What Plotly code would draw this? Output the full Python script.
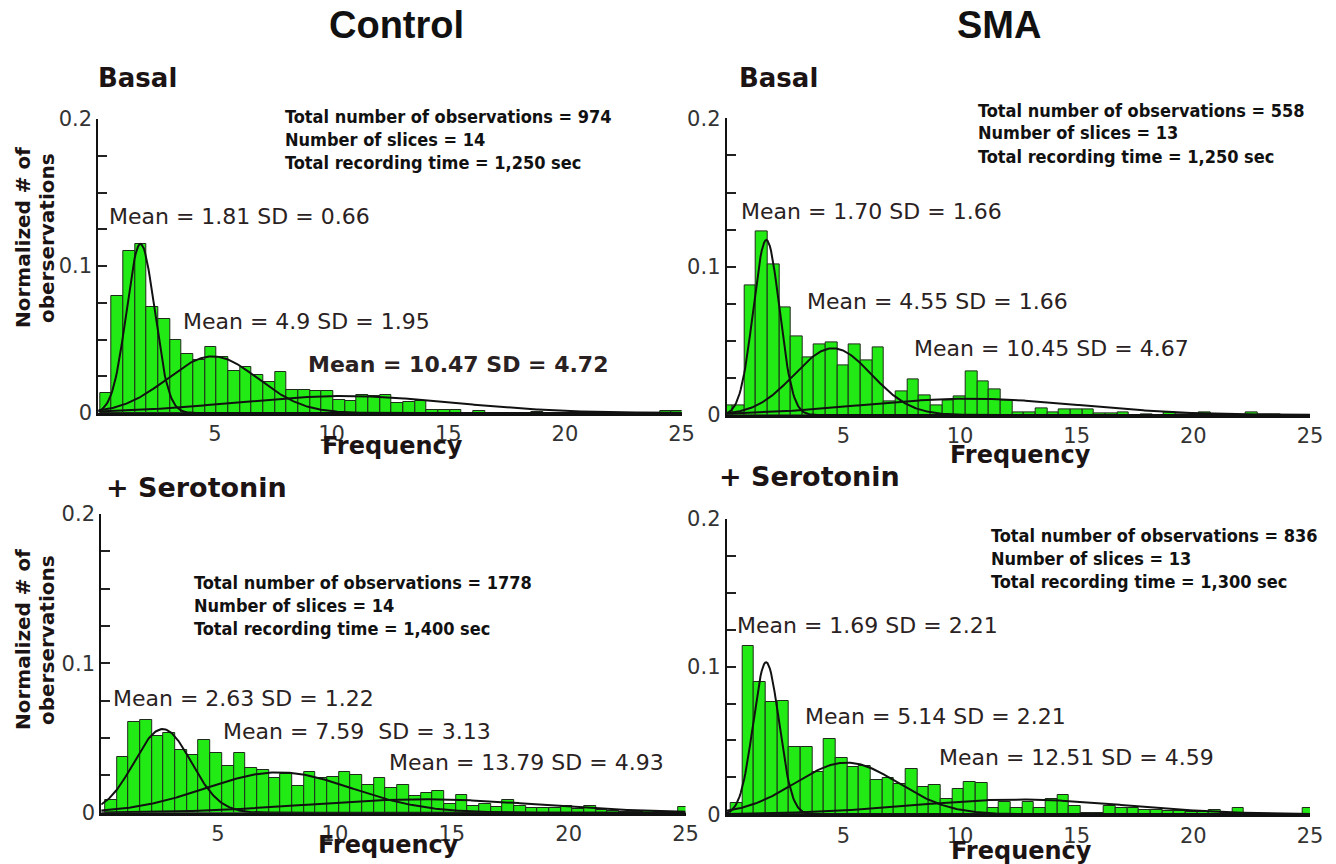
import numpy as np
import plotly.graph_objects as go

W, H = 1336, 864
BIN_W = 0.5

# ---------------- data ----------------
# Panel 1: Control, Basal
p1_start = 0.07
p1_vals = [0.0136, 0.0796, 0.110, 0.115, 0.072, 0.0638, 0.050, 0.040, 0.036, 0.045,
           0.038, 0.0285, 0.031, 0.026, 0.021, 0.0276, 0.0158, 0.0154, 0.0149, 0.0149,
           0.009, 0.008, 0.0122, 0.0118, 0.0120, 0.0066, 0.0077, 0.0082, 0.0023, 0.0023,
           0.0023, 0.0, 0.0014, 0.0, 0.0, 0.0, 0.0, 0.0005, 0.0, 0.0,
           0.0, 0.0, 0.0, 0.0, 0.0, 0.0, 0.0, 0.0, 0.0014, 0.0014]
p1_means = [1.81, 4.9, 10.47]
p1_sds = [0.60, 1.95, 4.72]
p1_peaks = [0.115, 0.0385, 0.0115]

# Panel 2: SMA, Basal
p2_start = -0.25
p2_vals = [0.0067, 0.0067, 0.0872, 0.1236, 0.1016, 0.0726, 0.0528, 0.0389, 0.0479, 0.0492,
           0.0337, 0.0479, 0.0371, 0.0456, 0.009, 0.0157, 0.024, 0.0135, 0.0067, 0.0101,
           0.0124, 0.0297, 0.0225, 0.0173, 0.0101, 0.0015, 0.0015, 0.0043, 0.002, 0.0038,
           0.0038, 0.0038, 0.0012, 0.0012, 0.0018, 0.0, 0.0007, 0.0, 0.002, 0.0007,
           0.0007, 0.002, 0.0007, 0.0005, 0.0, 0.002, 0.0007, 0.0007, 0.0, 0.0]
p2_means = [1.70, 4.55, 10.45]
p2_sds = [0.56, 1.66, 4.67]
p2_peaks = [0.118, 0.045, 0.011]

# Panel 3: Control, + Serotonin
p3_start = 0.17
p3_vals = [0.0085, 0.037, 0.0605, 0.062, 0.0516, 0.0536, 0.042, 0.0386, 0.0487, 0.0397,
           0.0313, 0.0397, 0.0297, 0.0286, 0.023, 0.0259, 0.0179, 0.0275, 0.023, 0.0237,
           0.0275, 0.0252, 0.0185, 0.0234, 0.0167, 0.0185, 0.0112, 0.0129, 0.0145, 0.006,
           0.012, 0.0045, 0.006, 0.0038, 0.0083, 0.0045, 0.0033, 0.0029, 0.0033, 0.0045,
           0.0022, 0.0045, 0.0016, 0.0011, 0.0005, 0.0007, 0.001, 0.0007, 0.0005, 0.0038]
p3_means = [2.63, 7.59, 13.79]
p3_sds = [1.22, 3.13, 4.93]
p3_peaks = [0.056, 0.027, 0.009]

# Panel 4: SMA, + Serotonin
p4_start = 0.17
p4_vals = [0.0074, 0.114, 0.0894, 0.0763, 0.077, 0.0458, 0.0458, 0.0289, 0.0508, 0.0379,
           0.0318, 0.0327, 0.0233, 0.0244, 0.0205, 0.0305, 0.0183, 0.0199, 0.0102, 0.0172,
           0.0221, 0.021, 0.004, 0.0080, 0.0041, 0.0086, 0.0041, 0.0102, 0.0131, 0.0056,
           0.0011, 0.0011, 0.0056, 0.0045, 0.0045, 0.0029, 0.0029, 0.0023, 0.0023, 0.0018,
           0.0016, 0.0029, 0.0011, 0.0045, 0.0, 0.0, 0.0, 0.0, 0.0, 0.0045]
p4_means = [1.69, 5.14, 12.51]
p4_sds = [0.55, 2.21, 4.59]
p4_peaks = [0.103, 0.035, 0.010]

y_tick_vals = [0, 0.025, 0.05, 0.075, 0.1, 0.125, 0.15, 0.175, 0.2]
y_tick_text = ["0", "", "", "", "0.1", "", "", "", "0.2"]
x_tick_vals = [5, 10, 15, 20, 25]
x_tick_text = ["5", "10", "15", "20", "25"]

# ---------------- layout geometry (pixels) ----------------
panels = [
    dict(start=p1_start, vals=p1_vals, means=p1_means, sds=p1_sds, peaks=p1_peaks,
         x0=98.3, x1=681.6, ytop=119, ybot=413),
    dict(start=p2_start, vals=p2_vals, means=p2_means, sds=p2_sds, peaks=p2_peaks,
         x0=726.7, x1=1310, ytop=118.4, ybot=415),
    dict(start=p3_start, vals=p3_vals, means=p3_means, sds=p3_sds, peaks=p3_peaks,
         x0=101.2, x1=685.5, ytop=514, ybot=812.7),
    dict(start=p4_start, vals=p4_vals, means=p4_means, sds=p4_sds, peaks=p4_peaks,
         x0=726.7, x1=1310, ytop=519, ybot=814.3),
]

BAR_COLOR = "#22EA14"
TXT = "#1c1414"
TICK_FONT = dict(family="DejaVu Sans", size=21, color="#333333")

fig = go.Figure()
layout = dict(width=W, height=H, margin=dict(l=0, r=0, t=0, b=0, pad=0, autoexpand=False),
              paper_bgcolor="white", plot_bgcolor="white", showlegend=False,
              barmode="overlay", bargap=0)

xgrid = np.linspace(0, 25, 501)
for i, p in enumerate(panels, start=1):
    xa = "x" if i == 1 else f"x{i}"
    ya = "y" if i == 1 else f"y{i}"
    centers = [p["start"] + BIN_W / 2 + BIN_W * k for k in range(len(p["vals"]))]
    fig.add_trace(go.Bar(x=centers, y=p["vals"], width=BIN_W, xaxis=xa, yaxis=ya,
                         marker=dict(color=BAR_COLOR, line=dict(color="#1e2a1a", width=1)),
                         hoverinfo="x+y"))
    for m, s, a in zip(p["means"], p["sds"], p["peaks"]):
        fig.add_trace(go.Scatter(x=xgrid, y=a * np.exp(-(xgrid - m) ** 2 / (2 * s * s)),
                                 mode="lines", xaxis=xa, yaxis=ya,
                                 line=dict(color="#111111", width=2), hoverinfo="skip"))
    xkey = "xaxis" if i == 1 else f"xaxis{i}"
    ykey = "yaxis" if i == 1 else f"yaxis{i}"
    layout[xkey] = dict(domain=[p["x0"] / W, p["x1"] / W], anchor=ya, range=[0, 25],
                        showgrid=False, zeroline=False, showline=True, linecolor="#111111",
                        linewidth=3, ticks="", tickvals=x_tick_vals, ticktext=x_tick_text,
                        tickfont=TICK_FONT, fixedrange=True, automargin=False)
    layout[ykey] = dict(domain=[1 - p["ybot"] / H, 1 - p["ytop"] / H], anchor=xa,
                        range=[0, 0.2], showgrid=False, zeroline=False, showline=True,
                        linecolor="#111111", linewidth=2, ticks="inside", ticklen=9,
                        tickwidth=1.5, tickcolor="#222222", tickvals=y_tick_vals,
                        ticktext=y_tick_text, tickfont=TICK_FONT, fixedrange=True,
                        automargin=False)

fig.update_layout(**layout)


def ann(text, px, py, size, bold=False, xanchor="left", family="DejaVu Sans",
        color=TXT, angle=0):
    t = f"<b>{text}</b>" if bold else text
    fig.add_annotation(text=t, x=px / W, y=1 - py / H, xref="paper", yref="paper",
                       xanchor=xanchor, yanchor="middle", showarrow=False,
                       textangle=angle, font=dict(family=family, size=size, color=color))


# Column titles
ann("Control", 396, 25, 38, bold=True, xanchor="center", family="Liberation Sans", color="#111111")
ann("SMA", 999, 25, 38, bold=True, xanchor="center", family="Liberation Sans", color="#111111")

# Condition labels
ann("Basal", 96, 78, 26, bold=True)
ann("Basal", 737, 78, 26, bold=True)
ann("+ Serotonin", 104, 487, 27, bold=True)
ann("+ Serotonin", 717, 476, 27, bold=True)

# Info blocks
COND = "DejaVu Sans Condensed, DejaVu Sans"
info = [
    (283, 116, ["Total number of observations = 974", "Number of slices = 14",
                "Total recording time = 1,250 sec"]),
    (976, 110, ["Total number of observations = 558", "Number of slices = 13",
                "Total recording time = 1,250 sec"]),
    (192, 582, ["Total number of observations = 1778", "Number of slices = 14",
                "Total recording time = 1,400 sec"]),
    (989, 535, ["Total number of observations = 836", "Number of slices = 13",
                "Total recording time = 1,300 sec"]),
]
for px, py, lines in info:
    for k, line in enumerate(lines):
        ann(line, px, py + 23 * k, 18, bold=True, family=COND, color="#111111")

# Mean / SD labels
means_lbl = [
    ("Mean = 1.81 SD = 0.66", 107, 216, False),
    ("Mean = 4.9 SD = 1.95", 181, 321, False),
    ("Mean = 10.47 SD = 4.72", 306, 364, True),
    ("Mean = 1.70 SD = 1.66", 739, 212, False),
    ("Mean = 4.55 SD = 1.66", 805, 301, False),
    ("Mean = 10.45 SD = 4.67", 912, 348, False),
    ("Mean = 2.63 SD = 1.22", 111, 698, False),
    ("Mean = 7.59&nbsp; SD = 3.13", 221, 731, False),
    ("Mean = 13.79 SD = 4.93", 387, 762, False),
    ("Mean = 1.69 SD = 2.21", 735, 625, False),
    ("Mean = 5.14 SD = 2.21", 803, 716, False),
    ("Mean = 12.51 SD = 4.59", 937, 757, False),
]
for t, px, py, b in means_lbl:
    ann(t, px, py, 22, bold=b, color="#2a2222")

# X axis titles
for px, py in [(392, 446), (1020, 455), (388, 845), (1022, 851)]:
    ann("Frequency", px, py, 24, bold=True, xanchor="center")

# Y axis titles
for cy in [238, 640]:
    ann("Normalized # of", 23, cy, 20, bold=True, xanchor="center", angle=-90)
    ann("oberservations", 47, cy, 20, bold=True, xanchor="center", angle=-90)

# remove the default page margin so the figure sits at the window's top-left corner
post = """
(function(){
 var h=document.documentElement, b=document.body;
 [h,b].forEach(function(e){e.style.margin='0';e.style.padding='0';e.style.overflow='hidden';});
 var d=document.getElementById('{plot_id}') || document.querySelector('.plotly-graph-div');
 if(d){d.style.position='fixed';d.style.left='0px';d.style.top='0px';}
})();
"""
fig.write_html("out.html", post_script=post, config={"displayModeBar": False})
